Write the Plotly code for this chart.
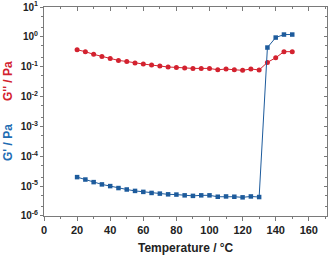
import plotly.graph_objects as go

temperature = [20, 25, 30, 35, 40, 45, 50, 55, 60, 65, 70, 75, 80, 85, 90, 95, 100,
               105, 110, 115, 120, 125, 130, 135, 140, 145, 150]
g_loss = [0.37, 0.32, 0.26, 0.22, 0.19, 0.163, 0.15, 0.133, 0.123, 0.114, 0.105, 0.098,
          0.095, 0.090, 0.088, 0.088, 0.088, 0.079, 0.084, 0.079, 0.076, 0.084, 0.078,
          0.14, 0.20, 0.32, 0.32]
g_storage = [2.0e-5, 1.66e-5, 1.36e-5, 1.14e-5, 1.0e-5, 8.6e-6, 7.7e-6, 6.9e-6, 6.4e-6,
             5.9e-6, 5.6e-6, 5.3e-6, 5.2e-6, 4.9e-6, 4.7e-6, 4.9e-6, 4.9e-6, 4.4e-6,
             4.5e-6, 4.4e-6, 4.2e-6, 4.5e-6, 4.3e-6, 0.44, 0.95, 1.2, 1.2]
x_ticks = [0, 20, 40, 60, 80, 100, 120, 140, 160]
y_tickvals = [1e-6, 1e-5, 1e-4, 1e-3, 1e-2, 1e-1, 1, 10]
y_ticktext = ["<b>10<sup>-6</sup></b>", "<b>10<sup>-5</sup></b>", "<b>10<sup>-4</sup></b>",
              "<b>10<sup>-3</sup></b>", "<b>10<sup>-2</sup></b>", "<b>10<sup>-1</sup></b>",
              "<b>10<sup>0</sup></b>", "<b>10<sup>1</sup></b>"]
x_ticktext = ["<b>%d</b>" % v for v in x_ticks]

RED = "#d3222f"
BLUE = "#1d5b9c"
AX = "#7a7a7a"
FONT = "Liberation Sans, Arial, sans-serif"
Y_RANGE = [-6.002, 1.002]

fig = go.Figure()
fig.add_trace(go.Scatter(x=temperature, y=g_loss, mode="lines+markers",
                         line=dict(color=RED, width=1),
                         marker=dict(symbol="circle", size=5, color=RED)))
fig.add_trace(go.Scatter(x=temperature, y=g_storage, mode="lines+markers",
                         line=dict(color=BLUE, width=1),
                         marker=dict(symbol="square", size=4.5, color=BLUE)))
# invisible trace to anchor the secondary (top/right) frame axes
fig.add_trace(go.Scatter(x=temperature, y=g_loss, xaxis="x2", yaxis="y2", mode="markers",
                         marker=dict(opacity=0), showlegend=False, hoverinfo="skip"))

fig.update_layout(
    width=331, height=255,
    margin=dict(l=44, r=4, t=7, b=39),
    paper_bgcolor="white", plot_bgcolor="white",
    showlegend=False,
    font=dict(family=FONT, size=10, color="#222"),
    xaxis=dict(range=[0, 171], tickvals=x_ticks, ticktext=x_ticktext, ticks="outside",
               ticklen=4, tickcolor=AX, showline=True, mirror=True, linecolor=AX,
               linewidth=1, showgrid=False, zeroline=False, automargin=False,
               tickfont=dict(size=11, family=FONT), ticklabeloverflow="allow",
               minor=dict(dtick=10, ticks="outside", ticklen=2, tickcolor=AX)),
    yaxis=dict(type="log", range=Y_RANGE, tickvals=y_tickvals, ticktext=y_ticktext,
               ticks="outside", ticklen=3, tickcolor=AX, showline=True, mirror=True,
               linecolor=AX, linewidth=1, showgrid=False, zeroline=False,
               automargin=False, ticklabeloverflow="allow",
               tickfont=dict(size=10, family=FONT),
               minor=dict(ticks="outside", ticklen=2, tickcolor=AX, showgrid=False)),
    xaxis2=dict(range=[0, 171], overlaying="x", side="top", anchor="y2",
                showticklabels=False,
                tickvals=x_ticks, ticks="inside", ticklen=4, tickcolor=AX,
                minor=dict(dtick=10, ticks="inside", ticklen=2, tickcolor=AX),
                linecolor=AX, linewidth=1, showline=True, showgrid=False,
                zeroline=False, automargin=False),
    yaxis2=dict(type="log", range=Y_RANGE, overlaying="y", side="right", anchor="x2",
                showticklabels=False, tickvals=y_tickvals, ticks="inside", ticklen=3,
                tickcolor=AX, minor=dict(ticks="inside", ticklen=2, tickcolor=AX),
                linecolor=AX, linewidth=1, showline=True, showgrid=False,
                zeroline=False, automargin=False),
)

plot_top, plot_h = 7, 209
fig.add_annotation(text="<b>G'' / Pa</b>", textangle=-90, x=0, xref="paper",
                   xanchor="center", xshift=-36, y=1 - (81 - plot_top) / plot_h,
                   yref="paper", yanchor="middle", showarrow=False,
                   font=dict(size=12, color=RED, family=FONT))
fig.add_annotation(text="<b>G' / Pa</b>", textangle=-90, x=0, xref="paper",
                   xanchor="center", xshift=-36, y=1 - (143 - plot_top) / plot_h,
                   yref="paper", yanchor="middle", showarrow=False,
                   font=dict(size=12, color="#1f6db3", family=FONT))
fig.add_annotation(text="<b>Temperature / °C</b>", x=0.5, xref="paper", y=0,
                   yref="paper", yanchor="middle", yshift=-32, showarrow=False,
                   font=dict(size=12, color="#222", family=FONT))

fig.write_html("out.html", config={"displayModeBar": False},
               post_script="document.body.style.margin='0';"
                           "document.documentElement.style.overflow='hidden';")
